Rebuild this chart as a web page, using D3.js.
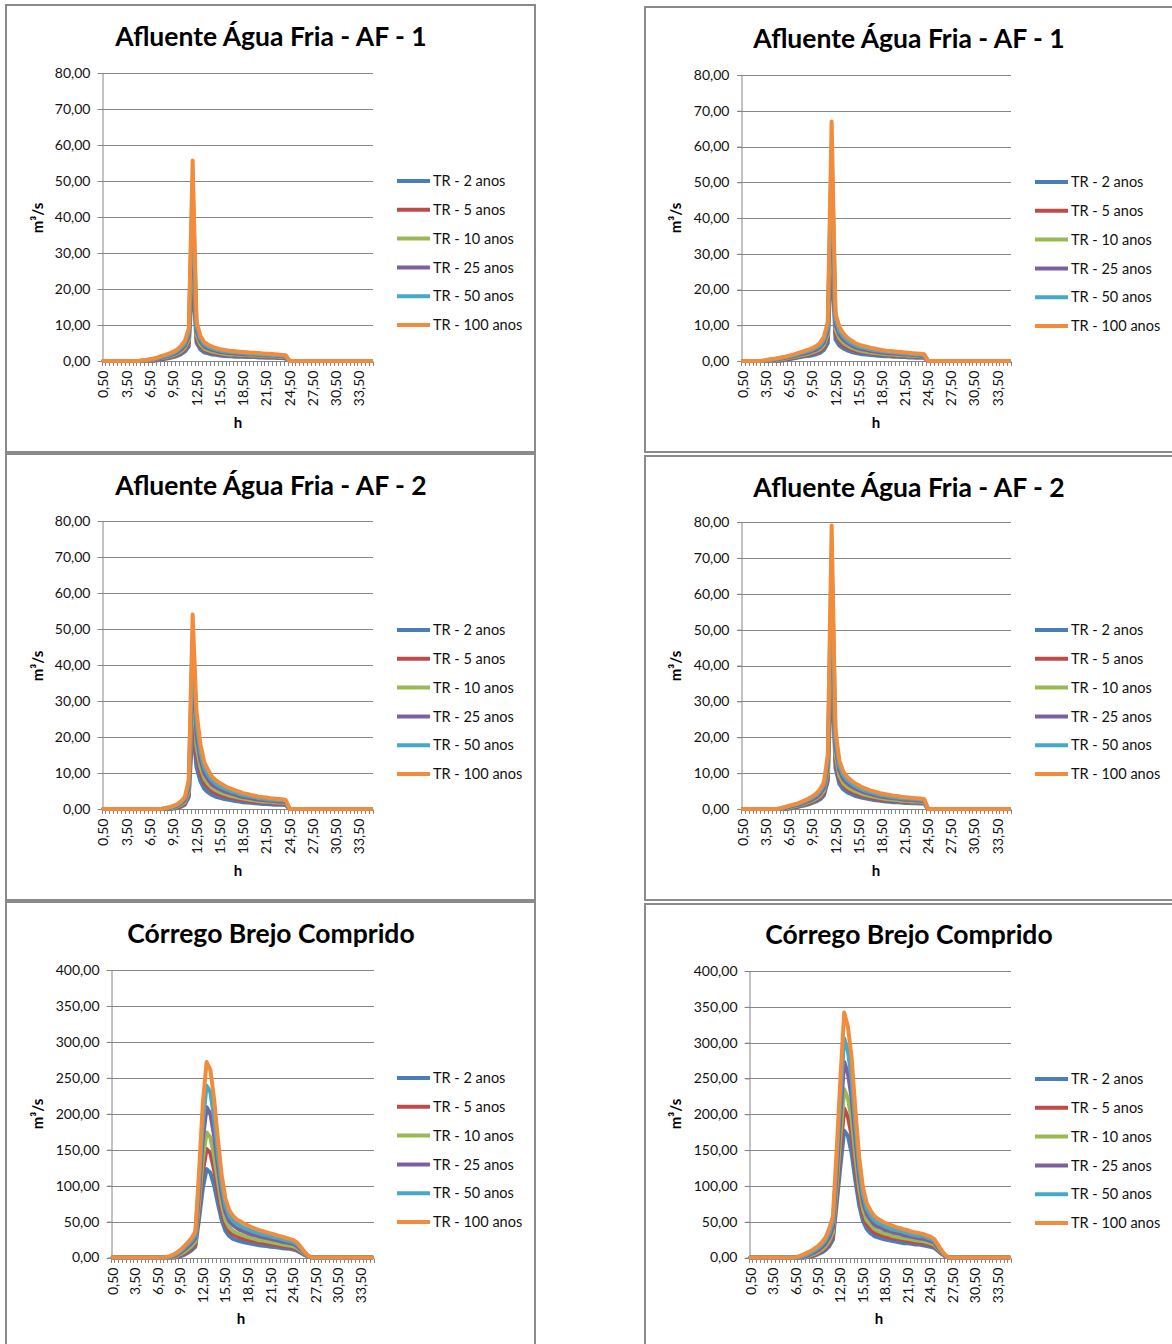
<!DOCTYPE html>
<html>
<head>
<meta charset="utf-8">
<script src="https://cdn.jsdelivr.net/npm/d3@7"></script>
<style>
  body { margin: 0; background: #ffffff; }
  svg { display: block; }
</style>
</head>
<body>
<svg id="chart" width="1172" height="1344"></svg>
<script>
// Hydrographs (m³/s per half hour) for six return periods.

const hours = [
  0.5,1,1.5,2,2.5,3,3.5,4,4.5,5,
  5.5,6,6.5,7,7.5,8,8.5,9,9.5,10,
  10.5,11,11.5,12,12.5,13,13.5,14,14.5,15,
  15.5,16,16.5,17,17.5,18,18.5,19,19.5,20,
  20.5,21,21.5,22,22.5,23,23.5,24,24.5,25,
  25.5,26,26.5,27,27.5,28,28.5,29,29.5,30,
  30.5,31,31.5,32,32.5,33,33.5,34,34.5,35
];
const xLabelHours = [0.5,3.5,6.5,9.5,12.5,15.5,18.5,21.5,24.5,27.5,30.5,33.5];
const seriesNames = ["TR - 2 anos","TR - 5 anos","TR - 10 anos","TR - 25 anos","TR - 50 anos","TR - 100 anos"];
const seriesColors = ["#4a7ebb","#be4b48","#98b954","#7d60a0","#46aac5","#f08c3c"];
const afTicks = [0,10,20,30,40,50,60,70,80];
const brejoTicks = [0,50,100,150,200,250,300,350,400];
const titles = ["Afluente Água Fria - AF - 1","Afluente Água Fria - AF - 2","Córrego Brejo Comprido"];
const yTitle = "m³/s";
const xTitle = "h";

// ---- Afluente Água Fria AF-1 (left) ----
const af1a_tr2 = [
  0,0,0,0,0,0,0,0,0,0,
  0,0,0,0.1,0.2,0.4,0.6,0.8,1.1,1.4,
  1.9,2.6,4.1,24.0,5.1,3.2,2.4,2.1,1.8,1.7,
  1.5,1.4,1.3,1.3,1.2,1.2,1.2,1.1,1.1,1.1,
  1.0,1.0,0.9,0.9,0.9,0.8,0.8,0.7,0,0,
  0,0,0,0,0,0,0,0,0,0,
  0,0,0,0,0,0,0,0,0,0];
const af1a_tr5 = [
  0,0,0,0,0,0,0,0,0,0,
  0,0,0.1,0.2,0.4,0.6,0.8,1.1,1.4,1.8,
  2.4,3.2,5.1,30.5,6.3,4.0,3.0,2.6,2.3,2.1,
  1.9,1.8,1.7,1.6,1.5,1.5,1.4,1.4,1.3,1.3,
  1.3,1.2,1.1,1.1,1.1,1.0,1.0,0.9,0,0,
  0,0,0,0,0,0,0,0,0,0,
  0,0,0,0,0,0,0,0,0,0];
const af1a_tr10 = [
  0,0,0,0,0,0,0,0,0,0,
  0,0,0.2,0.4,0.6,0.8,1.0,1.3,1.6,2.1,
  2.7,3.7,5.9,35.5,7.3,4.6,3.4,3.0,2.6,2.4,
  2.2,2.0,1.9,1.8,1.8,1.7,1.7,1.6,1.5,1.5,
  1.5,1.4,1.3,1.3,1.3,1.2,1.1,1.1,0,0,
  0,0,0,0,0,0,0,0,0,0,
  0,0,0,0,0,0,0,0,0,0];
const af1a_tr25 = [
  0,0,0,0,0,0,0,0,0,0,
  0,0.1,0.3,0.5,0.7,0.9,1.2,1.5,1.9,2.4,
  3.2,4.3,6.9,42.0,8.5,5.4,4.0,3.5,3.1,2.8,
  2.5,2.4,2.2,2.2,2.1,2.0,1.9,1.8,1.8,1.8,
  1.7,1.6,1.5,1.5,1.5,1.4,1.3,1.2,0,0,
  0,0,0,0,0,0,0,0,0,0,
  0,0,0,0,0,0,0,0,0,0];
const af1a_tr50 = [
  0,0,0,0,0,0,0,0,0,0,
  0.1,0.2,0.4,0.6,0.8,1.1,1.4,1.8,2.2,2.8,
  3.7,4.9,7.9,48.5,9.7,6.2,4.6,4.0,3.5,3.2,
  2.9,2.7,2.6,2.5,2.4,2.3,2.2,2.1,2.0,2.0,
  1.9,1.8,1.8,1.7,1.7,1.6,1.5,1.4,0,0,
  0,0,0,0,0,0,0,0,0,0,
  0,0,0,0,0,0,0,0,0,0];
const af1a_tr100 = [
  0,0,0,0,0,0,0,0,0,0,
  0.2,0.3,0.5,0.7,1.0,1.4,1.7,2.1,2.6,3.2,
  4.2,5.6,9.0,55.7,11.0,7.0,5.2,4.5,4.0,3.6,
  3.3,3.1,2.9,2.8,2.7,2.6,2.5,2.4,2.3,2.3,
  2.2,2.1,2.0,2.0,1.9,1.8,1.7,1.6,0,0,
  0,0,0,0,0,0,0,0,0,0,
  0,0,0,0,0,0,0,0,0,0];

// ---- Afluente Água Fria AF-1 (right) ----
const af1b_tr2 = [
  0,0,0,0,0,0,0,0,0,0,
  0.1,0.3,0.5,0.7,0.9,1.1,1.3,1.4,1.6,1.9,
  2.3,3.1,5.0,30.0,6.0,4.3,3.5,3.0,2.6,2.3,
  2.1,1.9,1.8,1.7,1.6,1.5,1.4,1.3,1.3,1.2,
  1.2,1.1,1.1,1.0,1.0,0.9,0.9,0.9,0,0,
  0,0,0,0,0,0,0,0,0,0,
  0,0,0,0,0,0,0,0,0,0];
const af1b_tr5 = [
  0,0,0,0,0,0,0,0,0,0.1,
  0.3,0.5,0.7,0.9,1.1,1.4,1.6,1.8,2.1,2.4,
  2.9,3.9,6.3,38.0,7.6,5.5,4.4,3.8,3.3,2.9,
  2.6,2.5,2.3,2.1,2.0,1.9,1.8,1.7,1.6,1.5,
  1.5,1.4,1.4,1.3,1.3,1.2,1.1,1.1,0,0,
  0,0,0,0,0,0,0,0,0,0,
  0,0,0,0,0,0,0,0,0,0];
const af1b_tr10 = [
  0,0,0,0,0,0,0,0,0.1,0.3,
  0.5,0.7,0.9,1.1,1.3,1.6,1.8,2.1,2.4,2.8,
  3.3,4.5,7.3,44.0,8.8,6.3,5.1,4.4,3.8,3.4,
  3.0,2.8,2.6,2.4,2.3,2.2,2.0,1.9,1.8,1.8,
  1.7,1.6,1.6,1.5,1.5,1.4,1.3,1.3,0,0,
  0,0,0,0,0,0,0,0,0,0,
  0,0,0,0,0,0,0,0,0,0];
const af1b_tr25 = [
  0,0,0,0,0,0,0,0.1,0.3,0.5,
  0.7,0.9,1.1,1.3,1.6,1.9,2.1,2.4,2.8,3.2,
  3.9,5.2,8.5,51.5,10.2,7.4,6.0,5.1,4.5,3.9,
  3.5,3.3,3.1,2.8,2.7,2.5,2.4,2.2,2.2,2.1,
  2.0,1.9,1.8,1.8,1.7,1.6,1.5,1.5,0,0,
  0,0,0,0,0,0,0,0,0,0,
  0,0,0,0,0,0,0,0,0,0];
const af1b_tr50 = [
  0,0,0,0,0,0,0.1,0.3,0.5,0.7,
  0.9,1.1,1.3,1.6,1.8,2.2,2.5,2.8,3.2,3.7,
  4.4,6.0,9.7,59.0,11.7,8.4,6.9,5.8,5.1,4.5,
  4.0,3.8,3.5,3.3,3.1,2.9,2.7,2.6,2.5,2.4,
  2.3,2.2,2.1,2.0,1.9,1.8,1.8,1.7,0,0,
  0,0,0,0,0,0,0,0,0,0,
  0,0,0,0,0,0,0,0,0,0];
const af1b_tr100 = [
  0,0,0,0,0,0.1,0.3,0.5,0.6,0.8,
  1.0,1.2,1.5,1.8,2.1,2.5,2.8,3.2,3.6,4.2,
  5.0,6.8,11.0,67.0,13.3,9.6,7.8,6.6,5.8,5.1,
  4.6,4.3,4.0,3.7,3.5,3.3,3.1,2.9,2.8,2.7,
  2.6,2.5,2.4,2.3,2.2,2.1,2.0,1.9,0,0,
  0,0,0,0,0,0,0,0,0,0,
  0,0,0,0,0,0,0,0,0,0];

// ---- Afluente Água Fria AF-2 (left) ----
const af2a_tr2 = [
  0,0,0,0,0,0,0,0,0,0,
  0,0,0,0,0,0,0,0,0.1,0.3,
  0.6,1.2,3.3,23.0,11.6,7.7,5.6,4.6,3.9,3.4,
  3.1,2.8,2.6,2.4,2.2,2.1,1.9,1.8,1.7,1.6,
  1.5,1.4,1.4,1.3,1.2,1.2,1.2,1.1,0,0,
  0,0,0,0,0,0,0,0,0,0,
  0,0,0,0,0,0,0,0,0,0];
const af2a_tr5 = [
  0,0,0,0,0,0,0,0,0,0,
  0,0,0,0,0,0,0,0.1,0.3,0.5,
  0.9,1.6,4.2,30.0,14.8,9.9,7.2,5.9,5.0,4.4,
  4.0,3.6,3.3,3.1,2.9,2.6,2.4,2.3,2.1,2.0,
  1.9,1.8,1.8,1.7,1.6,1.5,1.5,1.4,0,0,
  0,0,0,0,0,0,0,0,0,0,
  0,0,0,0,0,0,0,0,0,0];
const af2a_tr10 = [
  0,0,0,0,0,0,0,0,0,0,
  0,0,0,0,0,0,0,0.2,0.4,0.7,
  1.2,2.0,5.0,35.0,17.5,11.7,8.5,7.0,5.9,5.2,
  4.7,4.3,3.9,3.6,3.4,3.1,2.9,2.7,2.5,2.4,
  2.2,2.1,2.1,2.0,1.9,1.8,1.8,1.6,0,0,
  0,0,0,0,0,0,0,0,0,0,
  0,0,0,0,0,0,0,0,0,0];
const af2a_tr25 = [
  0,0,0,0,0,0,0,0,0,0,
  0,0,0,0,0,0,0.1,0.3,0.6,0.9,
  1.5,2.5,6.0,41.0,20.5,13.7,9.9,8.2,6.8,6.1,
  5.5,5.0,4.6,4.3,4.0,3.6,3.3,3.2,3.0,2.8,
  2.6,2.5,2.4,2.3,2.2,2.1,2.1,1.9,0,0,
  0,0,0,0,0,0,0,0,0,0,
  0,0,0,0,0,0,0,0,0,0];
const af2a_tr50 = [
  0,0,0,0,0,0,0,0,0,0,
  0,0,0,0,0,0,0.2,0.4,0.7,1.1,
  1.8,3.0,7.0,47.5,23.8,15.8,11.4,9.5,7.9,7.0,
  6.3,5.8,5.3,4.9,4.6,4.2,3.9,3.7,3.4,3.3,
  3.0,2.9,2.8,2.6,2.6,2.5,2.4,2.2,0,0,
  0,0,0,0,0,0,0,0,0,0,
  0,0,0,0,0,0,0,0,0,0];
const af2a_tr100 = [
  0,0,0,0,0,0,0,0,0,0,
  0,0,0,0,0,0.1,0.3,0.5,0.9,1.3,
  2.1,3.4,8.0,54.0,27.0,18.0,13.0,10.8,9.0,8.0,
  7.2,6.6,6.0,5.6,5.2,4.8,4.4,4.2,3.9,3.7,
  3.4,3.3,3.2,3.0,2.9,2.8,2.7,2.5,0,0,
  0,0,0,0,0,0,0,0,0,0,
  0,0,0,0,0,0,0,0,0,0];

// ---- Afluente Água Fria AF-2 (right) ----
const af2b_tr2 = [
  0,0,0,0,0,0,0,0,0,0,
  0,0,0.1,0.3,0.5,0.8,1.0,1.3,1.7,2.1,
  2.7,3.8,7.8,41.0,11.4,7.0,5.5,4.7,4.2,3.7,
  3.4,3.1,2.9,2.7,2.5,2.4,2.2,2.1,2.0,1.9,
  1.9,1.8,1.7,1.7,1.6,1.6,1.5,1.5,0,0,
  0,0,0,0,0,0,0,0,0,0,
  0,0,0,0,0,0,0,0,0,0];
const af2b_tr5 = [
  0,0,0,0,0,0,0,0,0,0,
  0,0.1,0.3,0.5,0.7,1.0,1.3,1.6,2.0,2.5,
  3.2,4.5,9.1,48.0,13.4,8.2,6.4,5.5,4.9,4.4,
  4.0,3.7,3.4,3.2,3.0,2.8,2.6,2.5,2.4,2.3,
  2.2,2.1,2.0,2.0,1.9,1.8,1.8,1.7,0,0,
  0,0,0,0,0,0,0,0,0,0,
  0,0,0,0,0,0,0,0,0,0];
const af2b_tr10 = [
  0,0,0,0,0,0,0,0,0,0,
  0,0.2,0.4,0.7,0.9,1.2,1.5,1.9,2.3,2.9,
  3.7,5.1,10.3,54.5,15.2,9.3,7.2,6.2,5.5,5.0,
  4.6,4.1,3.9,3.6,3.4,3.2,3.0,2.8,2.7,2.6,
  2.5,2.3,2.3,2.2,2.1,2.1,2.0,1.9,0,0,
  0,0,0,0,0,0,0,0,0,0,
  0,0,0,0,0,0,0,0,0,0];
const af2b_tr25 = [
  0,0,0,0,0,0,0,0,0,0,
  0.1,0.3,0.6,0.9,1.1,1.4,1.8,2.2,2.7,3.3,
  4.3,5.9,12.0,63.0,17.6,10.8,8.4,7.2,6.4,5.8,
  5.3,4.8,4.5,4.2,3.9,3.7,3.4,3.3,3.1,3.0,
  2.9,2.7,2.6,2.6,2.5,2.4,2.3,2.2,0,0,
  0,0,0,0,0,0,0,0,0,0,
  0,0,0,0,0,0,0,0,0,0];
const af2b_tr50 = [
  0,0,0,0,0,0,0,0,0,0,
  0.2,0.5,0.8,1.1,1.3,1.7,2.1,2.6,3.1,3.8,
  4.9,6.7,13.4,70.5,19.7,12.1,9.4,8.1,7.2,6.4,
  5.9,5.4,5.0,4.7,4.4,4.1,3.8,3.7,3.5,3.3,
  3.2,3.0,3.0,2.9,2.8,2.7,2.6,2.5,0,0,
  0,0,0,0,0,0,0,0,0,0,
  0,0,0,0,0,0,0,0,0,0];
const af2b_tr100 = [
  0,0,0,0,0,0,0,0,0,0,
  0.3,0.6,0.9,1.2,1.5,1.9,2.4,2.9,3.5,4.3,
  5.5,7.5,15.0,79.0,22.0,13.5,10.5,9.0,8.0,7.2,
  6.6,6.0,5.6,5.2,4.9,4.6,4.3,4.1,3.9,3.7,
  3.6,3.4,3.3,3.2,3.1,3.0,2.9,2.8,0,0,
  0,0,0,0,0,0,0,0,0,0,
  0,0,0,0,0,0,0,0,0,0];

// ---- Córrego Brejo Comprido (left) ----
const brejoA_tr2 = [
  0,0,0,0,0,0,0,0,0,0,
  0,0,0,0,0,0,0,0.3,1.5,3.5,
  6.5,10,15,54,97,123,118,100,75,52,
  37,30,26,24,22.5,21,20,19,18,17,
  16.5,16,15,14.5,14,13,12.5,12,11,9.5,
  6.5,3.5,1,0,0,0,0,0,0,0,
  0,0,0,0,0,0,0,0,0,0];
const brejoA_tr5 = [
  0,0,0,0,0,0,0,0,0,0,
  0,0,0,0,0,0,0,1,3,5.5,
  9,13,18.5,67,119,151,145,122,92,64,
  45.5,36.5,32,29.5,27.5,26,24.5,23.5,22,21,
  20,19.5,18.5,17.5,17,16,15,14.5,13.5,11.5,
  8,4.5,1.5,0,0,0,0,0,0,0,
  0,0,0,0,0,0,0,0,0,0];
const brejoA_tr10 = [
  0,0,0,0,0,0,0,0,0,0,
  0,0,0,0,0,0,0.5,2,4.5,7.5,
  11.5,16,22,77,138,174,167,141,106,74,
  52,42,37,34,32,30,28.5,27,25.5,24,
  23.5,22.5,21.5,20.5,19.5,18.5,17.5,16.5,15.5,13.5,
  9.5,5,1.5,0,0,0,0,0,0,0,
  0,0,0,0,0,0,0,0,0,0];
const brejoA_tr25 = [
  0,0,0,0,0,0,0,0,0,0,
  0,0,0,0,0,0.3,1.5,3.5,6.5,10.5,
  15,20,27,92,165,209,200,169,127,88,
  63,51,45,41,38,36,34,32,31,29,
  28,27,26,24.5,23.5,22,21,20,19,16,
  11.5,6,2,0,0,0,0,0,0,0,
  0,0,0,0,0,0,0,0,0,0];
const brejoA_tr50 = [
  0,0,0,0,0,0,0,0,0,0,
  0,0,0,0,0,0.8,2.5,5,8.5,13,
  18,23.5,31,105,189,239,230,194,145,101,
  72,58,51,46.5,44,41,39,37,35,33.5,
  32,31,29.5,28,27,25.5,24,23,21.5,18.5,
  13,7,2,0,0,0,0,0,0,0,
  0,0,0,0,0,0,0,0,0,0];
const brejoA_tr100 = [
  0,0,0,0,0,0,0,0,0,0,
  0,0,0,0,0.3,1.5,3.5,6.5,10.5,15.5,
  21,27,36,120,215,272,261,220,165,115,
  82,66,58,53,50,47,44.5,42,40,38,
  36.5,35,33.5,32,30.5,29,27.5,26,24.5,21,
  15,8,2.5,0,0,0,0,0,0,0,
  0,0,0,0,0,0,0,0,0,0];

// ---- Córrego Brejo Comprido (right) ----
const brejoB_tr2 = [
  0,0,0,0,0,0,0,0,0,0,
  0,0,0,0,0,0.5,1.2,2.5,4.5,7,
  10.5,15.5,25,75,128,177,170,145,107,73,
  51,40,34,30,28,26.5,25,24,23,22,
  21,20,20,19,18,18,17,16,15,13.5,
  9.5,5,1.5,0,0,0,0,0,0,0,
  0,0,0,0,0,0,0,0,0,0];
const brejoB_tr5 = [
  0,0,0,0,0,0,0,0,0,0,
  0,0,0,0,0,1,2,3.5,6,9,
  13,19,30,88,150,208,196,170,125,85,
  60,46,40,35,33,31,29,28,27,26,
  25,24,23,22,21,21,20,19,18,16,
  11,6,1.5,0,0,0,0,0,0,0,
  0,0,0,0,0,0,0,0,0,0];
const brejoB_tr10 = [
  0,0,0,0,0,0,0,0,0,0,
  0,0,0,0,0.5,1.5,3,5,7.5,11,
  15.5,23,35,100,170,235,222,192,141,97,
  68,52,46,40,37,35,33,32,30,29,
  28,27,26,25,24,23.5,23,21.5,20,18,
  12.5,7,2,0,0,0,0,0,0,0,
  0,0,0,0,0,0,0,0,0,0];
const brejoB_tr25 = [
  0,0,0,0,0,0,0,0,0,0,
  0,0,0,0,1,2.5,4.5,7,10,14,
  19.5,28,42,117,198,273,257,222,164,112,
  78,61,53,46,43,41,38,37,35,34,
  33,31,30,29,28,27,26,25,23,21,
  14,8,2,0,0,0,0,0,0,0,
  0,0,0,0,0,0,0,0,0,0];
const brejoB_tr50 = [
  0,0,0,0,0,0,0,0,0,0,
  0,0,0,0.5,2,4,6.5,9.5,13,17.5,
  23.5,34,50,134,224,306,288,249,183,125,
  88,68,59,52,48,46,43,41,39,38,
  37,35,34,32,31,30,30,28,26,23,
  16,9,2.5,0,0,0,0,0,0,0,
  0,0,0,0,0,0,0,0,0,0];
const brejoB_tr100 = [
  0,0,0,0,0,0,0,0,0,0,
  0,0,0.5,2,4,6.5,9,12.5,16,21,
  28,40,58,150,250,342,322,278,205,140,
  98,76,66,58,54,51,48,46,44,42,
  41,39,38,36,35,34,33,31,29,26,
  18,10,3,0,0,0,0,0,0,0,
  0,0,0,0,0,0,0,0,0,0];

// ---- panel layout ----
const panels = [
  { title: titles[0], series: [af1a_tr2, af1a_tr5, af1a_tr10, af1a_tr25, af1a_tr50, af1a_tr100],
    ticks: afTicks, frame: [6, 5, 535, 452], plot: { left: 101.5, right: 373, top: 73, bottom: 361 },
    titleX: 271, titleY: 46, yTitleX: 38, yTitleY: 218, xTitleX: 238, xTitleY: 428,
    legend: { x0: 397, x1: 430, tx: 433, y0: 181, dy: 28.8 } },
  { title: titles[0], series: [af1b_tr2, af1b_tr5, af1b_tr10, af1b_tr25, af1b_tr50, af1b_tr100],
    ticks: afTicks, frame: [645, 7, 1180, 452], plot: { left: 741, right: 1011, top: 75, bottom: 361 },
    titleX: 909, titleY: 48, yTitleX: 676, yTitleY: 218, xTitleX: 876, xTitleY: 428,
    legend: { x0: 1035, x1: 1068, tx: 1071, y0: 182, dy: 28.8 } },
  { title: titles[1], series: [af2a_tr2, af2a_tr5, af2a_tr10, af2a_tr25, af2a_tr50, af2a_tr100],
    ticks: afTicks, frame: [6, 454, 535, 900], plot: { left: 101.5, right: 373, top: 521, bottom: 809 },
    titleX: 271, titleY: 495, yTitleX: 38, yTitleY: 666, xTitleX: 238, xTitleY: 876,
    legend: { x0: 397, x1: 430, tx: 433, y0: 630, dy: 28.8 } },
  { title: titles[1], series: [af2b_tr2, af2b_tr5, af2b_tr10, af2b_tr25, af2b_tr50, af2b_tr100],
    ticks: afTicks, frame: [645, 456, 1180, 900], plot: { left: 741, right: 1011, top: 522, bottom: 809 },
    titleX: 909, titleY: 497, yTitleX: 676, yTitleY: 666, xTitleX: 876, xTitleY: 876,
    legend: { x0: 1035, x1: 1068, tx: 1071, y0: 630, dy: 28.8 } },
  { title: titles[2], series: [brejoA_tr2, brejoA_tr5, brejoA_tr10, brejoA_tr25, brejoA_tr50, brejoA_tr100],
    ticks: brejoTicks, frame: [6, 902, 535, 1360], plot: { left: 110.7, right: 374, top: 970, bottom: 1257.5 },
    titleX: 271, titleY: 943, yTitleX: 38, yTitleY: 1114, xTitleX: 241, xTitleY: 1324,
    legend: { x0: 397, x1: 430, tx: 433, y0: 1078, dy: 28.8 } },
  { title: titles[2], series: [brejoB_tr2, brejoB_tr5, brejoB_tr10, brejoB_tr25, brejoB_tr50, brejoB_tr100],
    ticks: brejoTicks, frame: [645, 904, 1180, 1360], plot: { left: 748.6, right: 1011, top: 971, bottom: 1257.5 },
    titleX: 909, titleY: 944, yTitleX: 676, yTitleY: 1114, xTitleX: 879, xTitleY: 1324,
    legend: { x0: 1035, x1: 1068, tx: 1071, y0: 1079, dy: 28.8 } }
];

const svg = d3.select("#chart");
const fontFamily = "Lato, 'Open Sans', sans-serif";
const gridColor = "#868686";
const textColor = "#111111";
const lineWidth = 4;
const commaFormat = d => d3.format(".2f")(d).replace(".", ",");

panels.forEach(p => {
  const g = svg.append("g");

  // chart frame
  g.append("rect")
    .attr("x", p.frame[0]).attr("y", p.frame[1])
    .attr("width", p.frame[2] - p.frame[0]).attr("height", p.frame[3] - p.frame[1])
    .attr("fill", "#ffffff").attr("stroke", "#8a8a8a").attr("stroke-width", 2);

  const x = d3.scaleBand().domain(hours).range([p.plot.left, p.plot.right]).padding(0);
  const cx = h => x(h) + x.bandwidth() / 2;
  const y = d3.scaleLinear().domain([0, d3.max(p.ticks)]).range([p.plot.bottom, p.plot.top]);

  // horizontal gridlines
  g.append("g").selectAll("line").data(p.ticks).join("line")
    .attr("x1", p.plot.left - 4).attr("x2", p.plot.right)
    .attr("y1", d => Math.round(y(d)) + 0.5).attr("y2", d => Math.round(y(d)) + 0.5)
    .attr("stroke", gridColor).attr("stroke-width", 1);

  // value axis
  const yAxis = g.append("g")
    .attr("transform", `translate(${Math.round(p.plot.left) + 0.5},0)`)
    .call(d3.axisLeft(y).tickValues(p.ticks).tickFormat(commaFormat).tickSize(4).tickSizeOuter(0).tickPadding(8));
  yAxis.select(".domain").attr("stroke", gridColor);
  yAxis.selectAll(".tick line").attr("stroke", gridColor);
  yAxis.selectAll("text").attr("font-family", fontFamily).attr("font-size", 14).attr("fill", textColor);

  // category tick marks at every half hour boundary
  const bounds = hours.map(h => x(h)).concat([x(hours[hours.length - 1]) + x.bandwidth()]);
  g.append("g").selectAll("line").data(bounds).join("line")
    .attr("x1", d => Math.round(d) + 0.5).attr("x2", d => Math.round(d) + 0.5)
    .attr("y1", Math.round(y(0)) + 0.5).attr("y2", Math.round(y(0)) + 5)
    .attr("stroke", gridColor).attr("stroke-width", 1);

  // category labels, every 3 hours
  const xAxis = g.append("g")
    .attr("transform", `translate(0,${Math.round(y(0)) + 0.5})`)
    .call(d3.axisBottom(x).tickValues(xLabelHours).tickFormat(commaFormat).tickSize(0));
  xAxis.select(".domain").remove();
  xAxis.selectAll("text")
    .attr("font-family", fontFamily).attr("font-size", 14).attr("fill", textColor)
    .attr("transform", "rotate(-90)")
    .attr("x", -9).attr("y", 0).attr("dy", "0.36em")
    .style("text-anchor", "end");

  // hydrograph lines, smallest return period first
  const line = d3.line().x((d, i) => cx(hours[i])).y(d => y(d));
  g.append("g").selectAll("path").data(p.series).join("path")
    .attr("d", line)
    .attr("fill", "none")
    .attr("stroke", (d, i) => seriesColors[i])
    .attr("stroke-width", lineWidth)
    .attr("stroke-linejoin", "round")
    .attr("stroke-linecap", "round");

  // legend
  const leg = g.append("g").selectAll("g").data(seriesNames).join("g")
    .attr("transform", (d, i) => `translate(0,${p.legend.y0 + i * p.legend.dy})`);
  leg.append("line")
    .attr("x1", p.legend.x0).attr("x2", p.legend.x1)
    .attr("stroke", (d, i) => seriesColors[i]).attr("stroke-width", lineWidth);
  leg.append("text")
    .attr("x", p.legend.tx).attr("dy", "0.36em")
    .attr("font-family", fontFamily).attr("font-size", 14.5).attr("fill", textColor)
    .text(d => d);

  // titles
  g.append("text")
    .attr("x", p.titleX).attr("y", p.titleY)
    .attr("text-anchor", "middle")
    .attr("font-family", fontFamily).attr("font-weight", 700).attr("font-size", 26.5)
    .attr("fill", "#000000")
    .text(p.title);

  g.append("text")
    .attr("transform", `translate(${p.yTitleX},${p.yTitleY}) rotate(-90)`)
    .attr("text-anchor", "middle").attr("dy", "0.36em")
    .attr("font-family", fontFamily).attr("font-weight", 700).attr("font-size", 15)
    .attr("fill", "#000000")
    .text(yTitle);

  g.append("text")
    .attr("x", p.xTitleX).attr("y", p.xTitleY)
    .attr("text-anchor", "middle")
    .attr("font-family", fontFamily).attr("font-weight", 700).attr("font-size", 15)
    .attr("fill", "#000000")
    .text(xTitle);
});
</script>
</body>
</html>
